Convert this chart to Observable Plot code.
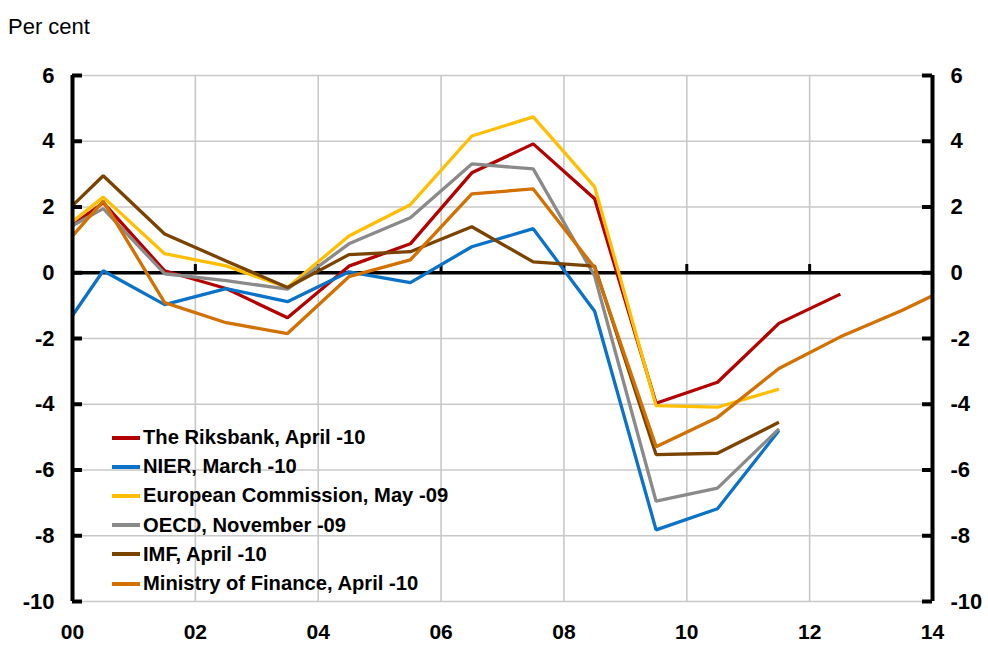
<!DOCTYPE html>
<html>
<head>
<meta charset="utf-8">
<script src="https://cdn.jsdelivr.net/npm/d3@7"></script>
<script src="https://cdn.jsdelivr.net/npm/@observablehq/plot@0.6"></script>
<style>
  html, body { margin: 0; padding: 0; background: #fff; }
  #wrap { position: relative; width: 988px; height: 646px; overflow: hidden; font-family: "Liberation Sans", Arial, sans-serif; }
  #unit { position: absolute; left: 8px; top: 16px; font-size: 22px; line-height: 22px; color: #000; }
  #legend { position: absolute; left: 112px; top: 423px; font-size: 20.2px; font-weight: bold; color: #000; }
  #legend .row { height: 29.2px; display: flex; align-items: center; white-space: nowrap; }
  #legend .sw { width: 28px; height: 4px; margin-right: 3px; }
</style>
</head>
<body>
<div id="wrap">
  <div id="unit">Per cent</div>
  <div id="chart"></div>
  <div id="legend"></div>
</div>
<script>
// x positions (annual values plotted mid-year; first/last at chart edges)
const years = [2000, 2000.5, 2001.5, 2002.5, 2003.5, 2004.5, 2005.5, 2006.5, 2007.5, 2008.5, 2009.5, 2010.5, 2011.5, 2012.5, 2013.5, 2014];

const seriesNames = [
  "The Riksbank, April -10",
  "NIER, March -10",
  "European Commission, May -09",
  "OECD, November -09",
  "IMF, April -10",
  "Ministry of Finance, April -10"
];
const seriesColors = ["#b30000", "#0a72c8", "#ffbf00", "#8a8a8a", "#7a4300", "#d27000"];

const riksbank = [1.45, 2.13, 0.06, -0.48, -1.37, 0.20, 0.88, 3.04, 3.92, 2.25, -3.97, -3.33, -1.54, -0.65, null, null];
const nier     = [-1.30, 0.06, -0.97, -0.48, -0.88, 0.03, -0.30, 0.79, 1.34, -1.17, -7.82, -7.18, -4.80, null, null, null];
const ec       = [1.55, 2.30, 0.58, 0.21, -0.45, 1.12, 2.07, 4.16, 4.74, 2.61, -4.04, -4.09, -3.54, null, null, null];
const oecd     = [1.43, 1.95, -0.03, -0.24, -0.50, 0.88, 1.67, 3.31, 3.16, -0.10, -6.95, -6.55, -4.75, null, null, null];
const imf      = [2.04, 2.95, 1.18, 0.36, -0.45, 0.55, 0.64, 1.40, 0.33, 0.20, -5.53, -5.49, -4.55, null, null, null];
const mof      = [1.12, 2.18, -0.91, -1.52, -1.85, -0.12, 0.39, 2.40, 2.55, 0.15, -5.29, -4.40, -2.91, -1.95, -1.15, -0.70];

const seriesValues = [riksbank, nier, ec, oecd, imf, mof];

const yTicks = [-10, -8, -6, -4, -2, 0, 2, 4, 6];
const xGridYears = [2002, 2004, 2006, 2008, 2010, 2012];
const xLabelYears = [2000, 2002, 2004, 2006, 2008, 2010, 2012, 2014];
const xLabels = ["00", "02", "04", "06", "08", "10", "12", "14"];

const W = 988, H = 646, mL = 72, mR = 56, mT = 75, mB = 45;
const innerW = W - mL - mR;
const pxPerYear = innerW / 14;
const tickYears = 10 / pxPerYear; // inward tick length (10px) in year units

const lineMarks = seriesValues.map((vals, i) => {
  const data = years.map((x, j) => ({x, y: vals[j]})).filter(d => d.y !== null);
  return Plot.line(data, {x: "x", y: "y", stroke: seriesColors[i], strokeWidth: 3.3, strokeLinejoin: "miter", strokeLinecap: "butt"});
});

const chart = Plot.plot({
  width: W, height: H,
  marginLeft: mL, marginRight: mR, marginTop: mT, marginBottom: mB,
  x: {domain: [2000, 2014], label: null},
  y: {domain: [-10, 6], label: null},
  style: {fontFamily: "'Liberation Sans', Arial, sans-serif", fontWeight: "bold", fontSize: "22px", color: "#000", background: "#fff", overflow: "visible"},
  marks: [
    Plot.gridY(yTicks.filter(d => d !== 0), {stroke: "#c8c8c8", strokeOpacity: 1, strokeWidth: 1.6}),
    Plot.gridX(xGridYears, {stroke: "#c8c8c8", strokeOpacity: 1, strokeWidth: 1.6}),
    Plot.ruleY([0], {stroke: "#000", strokeWidth: 3.5}),
    Plot.ruleX(xGridYears, {y1: 0, y2: 0.25, stroke: "#000", strokeWidth: 3}),
    ...lineMarks,
    Plot.ruleX([2000, 2014], {stroke: "#000", strokeWidth: 4}),
    Plot.ruleY(yTicks, {y: d => d, x1: 2000, x2: 2000 + tickYears, stroke: "#000", strokeWidth: 4}),
    Plot.ruleY(yTicks, {y: d => d, x1: 2014 - tickYears, x2: 2014, stroke: "#000", strokeWidth: 4}),
    Plot.axisY(yTicks, {anchor: "left", label: null, tickSize: 0, tickPadding: 18, tickFormat: d => String(d), fontWeight: "bold", fontSize: 22}),
    Plot.axisY(yTicks, {anchor: "right", label: null, tickSize: 0, tickPadding: 18, tickFormat: d => String(d), fontWeight: "bold", fontSize: 22}),
    Plot.axisX(xLabelYears, {anchor: "bottom", label: null, tickSize: 0, tickPadding: 23, tickFormat: d => xLabels[xLabelYears.indexOf(d)], fontWeight: "bold", fontSize: 21})
  ]
});
document.getElementById("chart").appendChild(chart);

const legend = document.getElementById("legend");
seriesNames.forEach((name, i) => {
  const row = document.createElement("div");
  row.className = "row";
  const sw = document.createElement("span");
  sw.className = "sw";
  sw.style.background = seriesColors[i];
  const t = document.createElement("span");
  t.textContent = name;
  row.appendChild(sw);
  row.appendChild(t);
  legend.appendChild(row);
});
</script>
</body>
</html>
